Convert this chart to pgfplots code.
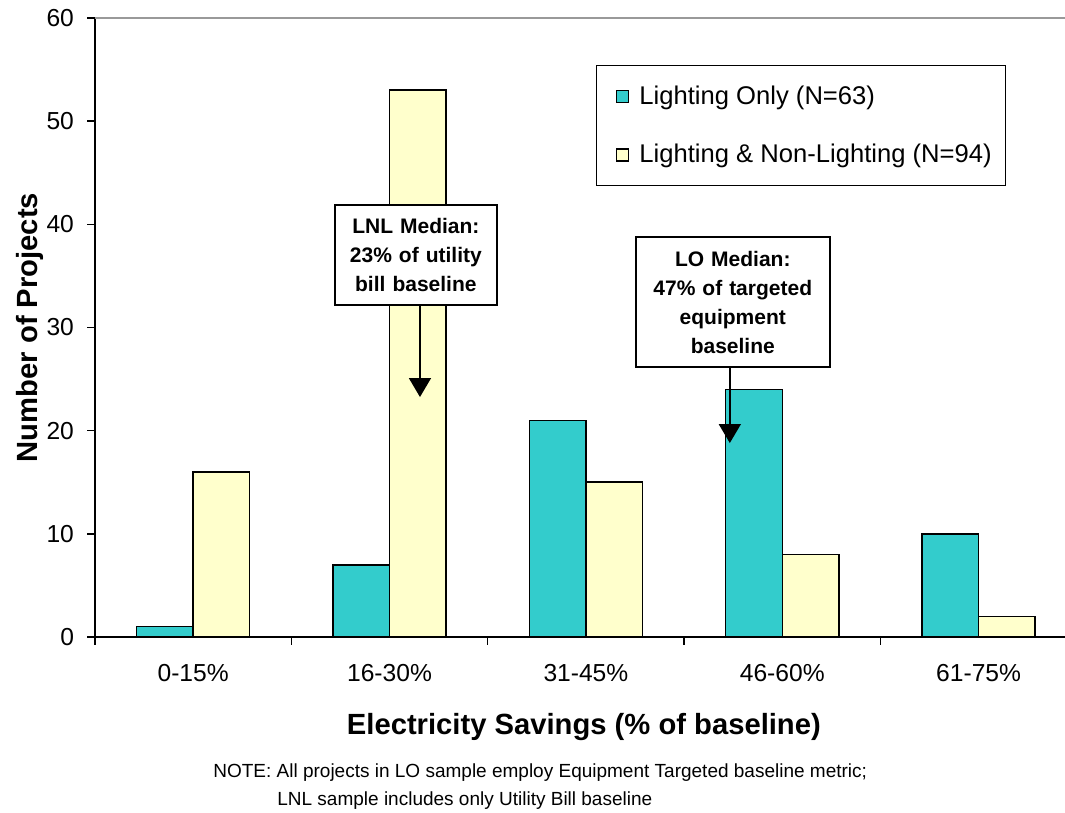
\documentclass[border=0pt]{standalone}
\usepackage{fontspec}
\setmainfont{Liberation Sans}
\usepackage{pgfplots}
\pgfplotsset{compat=1.18}
\usetikzlibrary{arrows.meta}
\definecolor{lo}{HTML}{33CCCC}
\definecolor{lnl}{HTML}{FFFFCC}

\begin{document}
\begin{tikzpicture}
\useasboundingbox (0,0) rectangle (532.5pt,406.5pt);
\begin{axis}[
    at={(47.5pt,88pt)}, anchor=south west,
    scale only axis, width=485pt, height=309.5pt,
    xmin=-0.5, xmax=4.44, ymin=0, ymax=60,
    clip=false,
    ybar=0pt, bar width=0.288,
    axis x line*=bottom, axis y line*=left,
    axis line style={-, black, line width=0.7pt},
    tick align=outside,
    xtick={-0.5,0.5,1.5,2.5,3.5}, xticklabels={},
    extra x ticks={0,1,2,3,4},
    extra x tick labels={0-15\%,16-30\%,31-45\%,46-60\%,61-75\%},
    extra x tick style={major tick length=0pt, tick label style={yshift=-10pt}},
    major tick length=4pt,
    ytick={0,10,...,60},
    tick style={black, line width=0.7pt},
    y tick label style={xshift=-3pt},
    tick label style={font=\fontsize{12.3}{14}\selectfont},
    /pgf/number format/assume math mode=true,
    xlabel={Electricity Savings (\% of baseline)},
    ylabel={Number of Projects},
    xlabel style={at={(axis description cs:0.504,-0.1454)}, anchor=center,
        font=\fontsize{14.6}{17}\selectfont\bfseries},
    ylabel style={at={(axis description cs:-0.067,0.5)}, anchor=center,
        font=\fontsize{14.6}{17}\selectfont\bfseries},
    legend style={at={(0.516,0.924)}, anchor=north west, draw=black,
        line width=0.6pt, inner xsep=5pt, inner ysep=8pt, row sep=14.5pt,
        font=\fontsize{12.8}{15}\selectfont, cells={anchor=west},
        /tikz/every odd column/.append style={column sep=3pt}},
    legend image code/.code={\path (0pt,0pt);
        \draw[#1, line width=0.6pt] (5pt,-3pt) rectangle (11pt,3pt);},
]
\draw[gray!80, line width=1pt] (rel axis cs:0,1) -- (rel axis cs:1,1);

% Lighting Only
\addplot[fill=lo, draw=black, line width=0.75pt]
coordinates {(0,1) (1,7) (2,21) (3,24) (4,10)};
% Lighting & Non-Lighting
\addplot[fill=lnl, draw=black, line width=0.75pt]
coordinates {(0,16) (1,53) (2,15) (3,8) (4,2)};

\legend{Lighting Only (N=63), Lighting \& Non-Lighting (N=94)}

% median call-outs
\node[draw=black, fill=white, line width=0.8pt, align=center, text width=75pt,
      inner xsep=3pt, minimum height=50pt,
      font=\fontsize{10.5}{14.5}\selectfont\bfseries]
  at (axis cs:1.134,37.0) {LNL Median:\\23\% of utility\\bill baseline};
\draw[-{Triangle[width=11pt,length=9.5pt]}, line width=0.8pt]
  (axis cs:1.155,32.18) -- (axis cs:1.155,23.26);

\node[draw=black, fill=white, line width=0.8pt, align=center, text width=91pt,
      inner xsep=3pt, minimum height=65pt,
      font=\fontsize{10.5}{14.5}\selectfont\bfseries]
  at (axis cs:2.748,32.47) {LO Median:\\47\% of targeted\\equipment\\baseline};
\draw[-{Triangle[width=11pt,length=9.5pt]}, line width=0.8pt]
  (axis cs:2.733,26.17) -- (axis cs:2.733,18.80);

% note
\node[anchor=west, font=\fontsize{9.5}{11}\selectfont, inner sep=0pt]
  at (axis description cs:0.1216,-0.2197)
  {NOTE: All projects in LO sample employ Equipment Targeted baseline metric;};
\node[anchor=west, font=\fontsize{9.5}{11}\selectfont, inner sep=0pt]
  at (axis description cs:0.1876,-0.265)
  {LNL sample includes only Utility Bill baseline};
\end{axis}
\end{tikzpicture}
\end{document}
